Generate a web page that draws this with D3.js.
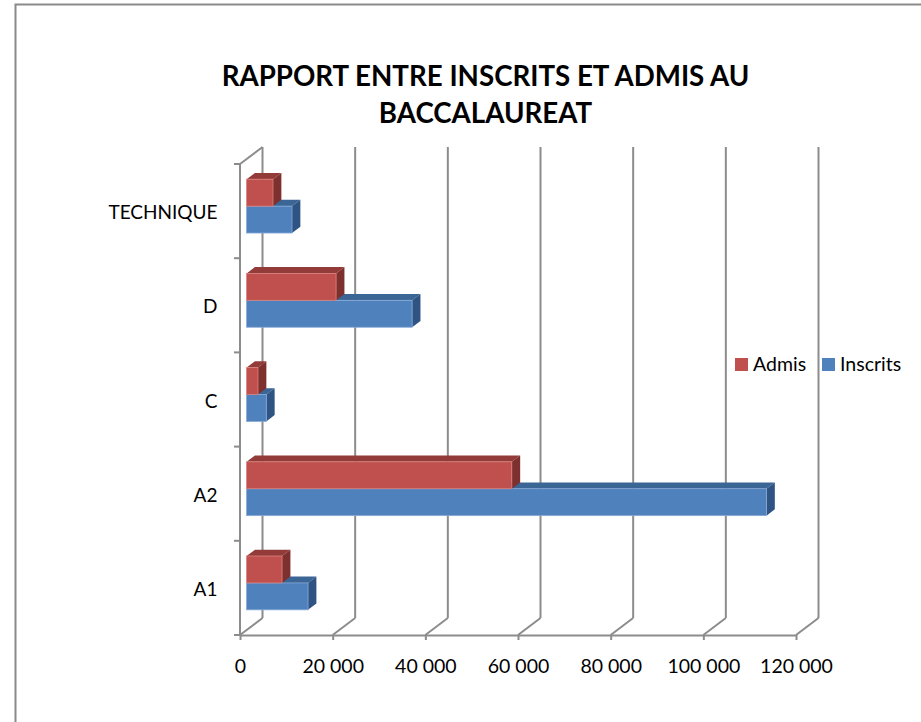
<!DOCTYPE html>
<html>
<head>
<meta charset="utf-8">
<script src="https://cdn.jsdelivr.net/npm/d3@7"></script>
<style>
  body { margin: 0; background: #fff; }
  svg { display: block; }
  text { font-family: Lato, "Open Sans", sans-serif; fill: #000; }
</style>
</head>
<body>
<div id="chart"></div>
<script>
// données
var categories = ["A1", "A2", "C", "D", "TECHNIQUE"];
var inscrits = [13260, 112200, 4250, 35720, 9800];
var admis = [7650, 57240, 2460, 19310, 5700];
var seriesNames = ["Admis", "Inscrits"];
var xTicks = [0, 20000, 40000, 60000, 80000, 100000, 120000];

var width = 921, height = 722;
var gridColor = "#8c8c8c";

// profondeur 3D : decalage du mur du fond
var depth = {dx: 22.5, dy: -17};
var barFront = 0.293, barBack = 0.665;

var colors = {
  Admis: {front: "#c0504d", top: "#933b39", side: "#7e302e", edge: "#d9827f"},
  Inscrits: {front: "#4f81bd", top: "#3b6595", side: "#2f5483", edge: "#86a9d6"}
};

var x = d3.scaleLinear()
    .domain([0, 120000])
    .range([240, 796]);

var y = d3.scaleBand()
    .domain(categories.slice().reverse())
    .range([164, 635])
    .paddingInner(3 / 7)
    .paddingOuter(1.5 / 7);

var ySub = d3.scaleBand()
    .domain(seriesNames)
    .range([0, y.bandwidth()]);

var fr = d3.formatLocale({decimal: ",", thousands: " ", grouping: [3], currency: ["", ""]});
var fmt = fr.format(",");

var svg = d3.select("#chart")
    .append("svg")
    .attr("width", width)
    .attr("height", height);

// cadre
svg.append("rect")
    .attr("x", 15.5)
    .attr("y", 4.5)
    .attr("width", 1000)
    .attr("height", 800)
    .attr("fill", "none")
    .attr("stroke", "#8a8a8a")
    .attr("stroke-width", 2);

// titre
var title = svg.append("text")
    .attr("text-anchor", "middle")
    .attr("font-weight", "bold")
    .attr("font-size", "27.7px");
title.append("tspan").attr("x", 485.5).attr("y", 86).text("RAPPORT ENTRE INSCRITS ET ADMIS AU");
title.append("tspan").attr("x", 485.5).attr("y", 123).text("BACCALAUREAT");

var y0 = y.range()[0], y1 = y.range()[1];

// mur du fond et sol
var grid = svg.append("g")
    .attr("stroke", gridColor)
    .attr("stroke-width", 2)
    .attr("fill", "none");

grid.selectAll(".back")
  .data(xTicks)
  .enter()
  .append("line")
    .attr("x1", (d) => x(d) + depth.dx)
    .attr("x2", (d) => x(d) + depth.dx)
    .attr("y1", y0 + depth.dy)
    .attr("y2", y1 + depth.dy);

grid.selectAll(".floor")
  .data(xTicks)
  .enter()
  .append("line")
    .attr("x1", (d) => x(d))
    .attr("x2", (d) => x(d) + depth.dx)
    .attr("y1", y1)
    .attr("y2", y1 + depth.dy);

// mur de gauche
grid.append("line")
    .attr("x1", x(0)).attr("x2", x(0))
    .attr("y1", y0).attr("y2", y1);
grid.append("line")
    .attr("x1", x(0)).attr("x2", x(0) + depth.dx)
    .attr("y1", y0).attr("y2", y0 + depth.dy);

// graduations entre les categories
var bounds = d3.range(categories.length + 1).map((i) => y0 + i * y.step());
grid.selectAll(".ytick")
  .data(bounds)
  .enter()
  .append("line")
    .attr("x1", x(0) - 6).attr("x2", x(0))
    .attr("y1", (d) => d).attr("y2", (d) => d);

// axe X
var xAxis = svg.append("g")
    .attr("transform", "translate(0," + y1 + ")")
    .call(d3.axisBottom(x).tickValues(xTicks).tickFormat(fmt).tickSize(5).tickSizeOuter(0).tickPadding(19));
xAxis.select(".domain").attr("stroke", gridColor).attr("stroke-width", 2);
xAxis.selectAll(".tick line").attr("stroke", gridColor).attr("stroke-width", 2);
xAxis.selectAll(".tick text")
    .attr("font-size", "19.5px")
    .attr("font-family", "Lato, sans-serif")
    .attr("fill", "#000");

// axe Y (etiquettes)
var yAxis = svg.append("g")
    .attr("transform", "translate(" + x(0) + ",2)")
    .call(d3.axisLeft(y).tickSize(0).tickPadding(22.5));
yAxis.select(".domain").remove();
yAxis.selectAll(".tick text")
    .attr("font-size", "19px")
    .attr("font-family", "Lato, sans-serif")
    .attr("fill", "#000");

// barres 3D
var bars = [];
categories.forEach((c, i) => {
  bars.push({cat: c, serie: "Inscrits", value: inscrits[i]});
  bars.push({cat: c, serie: "Admis", value: admis[i]});
});

var ox = depth.dx * barFront, oy = depth.dy * barFront;
var ddx = depth.dx * (barBack - barFront), ddy = depth.dy * (barBack - barFront);

var g = svg.selectAll(".bar")
  .data(bars)
  .enter()
  .append("g")
    .attr("class", "bar");

g.each(function(d) {
  var el = d3.select(this);
  var xl = x(0) + ox, xr = x(d.value) + ox;
  var yt = y(d.cat) + ySub(d.serie) + oy;
  var yb = yt + ySub.bandwidth();
  var col = colors[d.serie];

  el.append("polygon")
      .attr("points", [[xl, yt], [xr, yt], [xr + ddx, yt + ddy], [xl + ddx, yt + ddy]].join(" "))
      .attr("fill", col.top);
  el.append("polygon")
      .attr("points", [[xr, yt], [xr, yb], [xr + ddx, yb + ddy], [xr + ddx, yt + ddy]].join(" "))
      .attr("fill", col.side);
  el.append("rect")
      .attr("x", xl)
      .attr("y", yt)
      .attr("width", xr - xl)
      .attr("height", yb - yt)
      .attr("fill", col.front)
      .attr("stroke", col.edge)
      .attr("stroke-width", 0.8);
});

// legende
var legend = svg.append("g");
var legendX = [735, 822];
seriesNames.forEach((s, i) => {
  legend.append("rect")
      .attr("x", legendX[i])
      .attr("y", 358)
      .attr("width", 13)
      .attr("height", 13)
      .attr("fill", colors[s].front);
  legend.append("text")
      .attr("x", legendX[i] + 18)
      .attr("y", 371)
      .attr("font-size", "19.5px")
      .text(s);
});
</script>
</body>
</html>
